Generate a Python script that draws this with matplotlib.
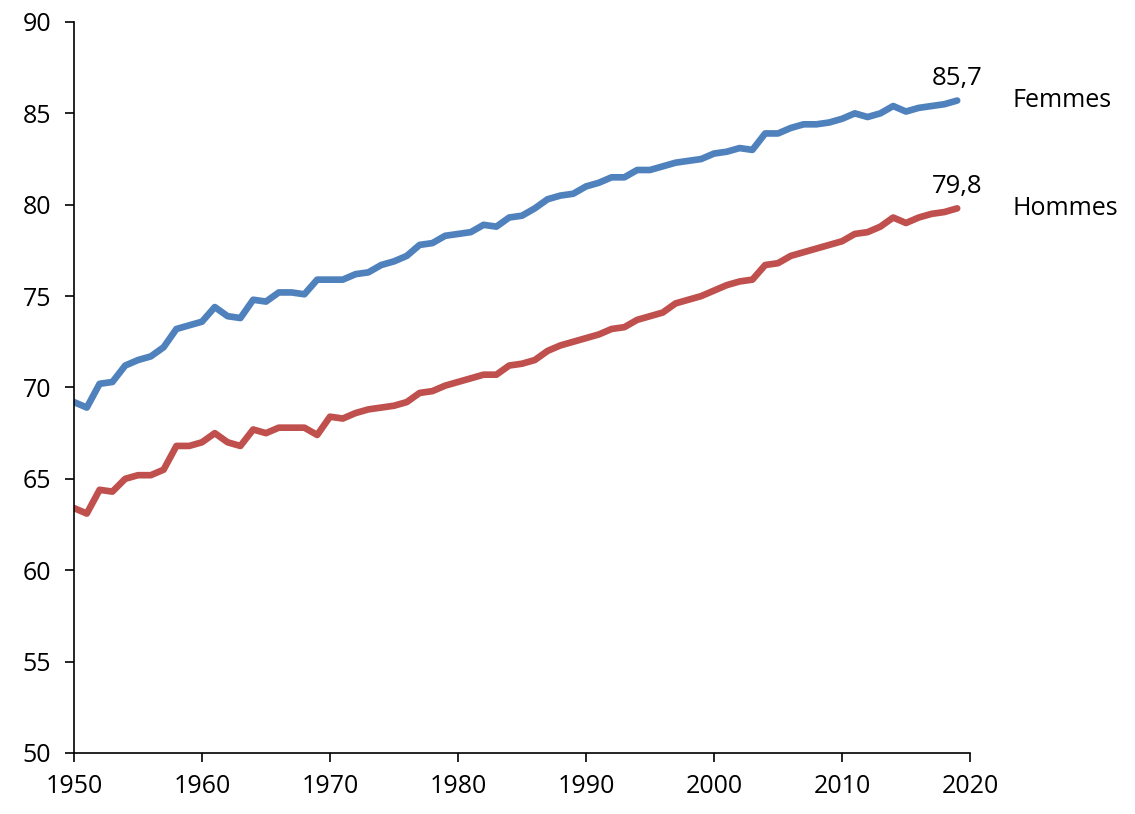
import matplotlib
matplotlib.use('Agg')
import matplotlib.pyplot as plt
import numpy as np

# Espérance de vie à la naissance, 1950-2019
years = list(range(1950, 2020))
femmes = [
    69.2, 68.9, 70.2, 70.3, 71.2, 71.5, 71.7, 72.2, 73.2, 73.4,
    73.6, 74.4, 73.9, 73.8, 74.8, 74.7, 75.2, 75.2, 75.1, 75.9,
    75.9, 75.9, 76.2, 76.3, 76.7, 76.9, 77.2, 77.8, 77.9, 78.3,
    78.4, 78.5, 78.9, 78.8, 79.3, 79.4, 79.8, 80.3, 80.5, 80.6,
    81.0, 81.2, 81.5, 81.5, 81.9, 81.9, 82.1, 82.3, 82.4, 82.5,
    82.8, 82.9, 83.1, 83.0, 83.9, 83.9, 84.2, 84.4, 84.4, 84.5,
    84.7, 85.0, 84.8, 85.0, 85.4, 85.1, 85.3, 85.4, 85.5, 85.7,
]
hommes = [
    63.4, 63.1, 64.4, 64.3, 65.0, 65.2, 65.2, 65.5, 66.8, 66.8,
    67.0, 67.5, 67.0, 66.8, 67.7, 67.5, 67.8, 67.8, 67.8, 67.4,
    68.4, 68.3, 68.6, 68.8, 68.9, 69.0, 69.2, 69.7, 69.8, 70.1,
    70.3, 70.5, 70.7, 70.7, 71.2, 71.3, 71.5, 72.0, 72.3, 72.5,
    72.7, 72.9, 73.2, 73.3, 73.7, 73.9, 74.1, 74.6, 74.8, 75.0,
    75.3, 75.6, 75.8, 75.9, 76.7, 76.8, 77.2, 77.4, 77.6, 77.8,
    78.0, 78.4, 78.5, 78.8, 79.3, 79.0, 79.3, 79.5, 79.6, 79.8,
]
series_names = ["Femmes", "Hommes"]
x_ticks = list(range(1950, 2021, 10))
y_ticks = list(range(50, 91, 5))

plt.rcParams['font.family'] = ['Open Sans', 'DejaVu Sans']

fig = plt.figure(figsize=(11.35, 8.14), dpi=100, facecolor='white')
ax = fig.add_axes([0.0652, 0.075, 0.7894, 0.898])

colors = ["#4F81BD", "#C0504D"]
for vals, name, c in zip([femmes, hommes], series_names, colors):
    ax.plot(years, vals, color=c, linewidth=4.8, solid_capstyle='round',
            solid_joinstyle='round')
    last = vals[-1]
    ax.text(years[-1], last + 0.85, f"{last:.1f}".replace('.', ','),
            fontsize=18.5, ha='center', va='baseline', clip_on=False)
    ax.text(2023.3, last, name, fontsize=18, ha='left', va='center',
            clip_on=False)

ax.set_xlim(1950, 2020)
ax.set_ylim(50, 90)
ax.set_xticks(x_ticks)
ax.set_yticks(y_ticks)
ax.tick_params(direction='out', length=6.5, width=1.2, labelsize=18)
ax.tick_params(axis='x', pad=9)
ax.tick_params(axis='y', pad=10)

for s in ['top', 'right']:
    ax.spines[s].set_visible(False)
for s in ['left', 'bottom']:
    ax.spines[s].set_linewidth(1.2)
    ax.spines[s].set_color('black')

plt.savefig("out.png", dpi=100, facecolor='white')
